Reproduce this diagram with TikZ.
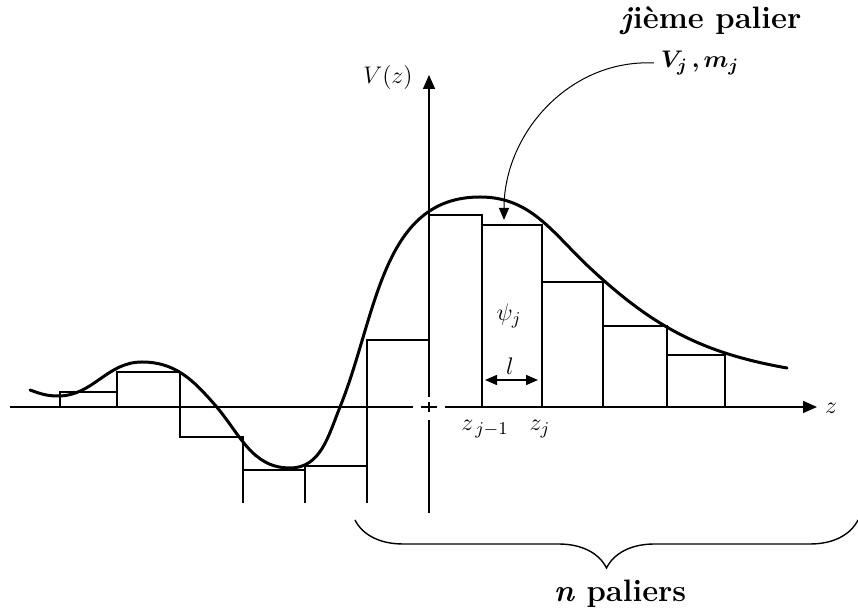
\documentclass[tikz,border=0pt]{standalone}
\usepackage{bm}
\usetikzlibrary{arrows.meta, positioning, decorations.pathreplacing}

\begin{document}
\begin{tikzpicture}[x=0.5pt, y=-0.5pt, >={Triangle[length=7pt, width=6pt]},
    lbl/.style={font=\fontsize{13}{15}\selectfont},
    titre/.style={font=\fontsize{15.5}{18}\selectfont\bfseries},
    stair/.style={line width=0.8pt},
    axe/.style={line width=0.7pt}]
    \useasboundingbox (0,0) rectangle (858,613);

    % 坐标轴
    \coordinate (zg) at (10,407);
    \coordinate (zd) at (817,407);
    \coordinate (vb) at (429,513);
    \coordinate (vh) at (429,75);
    \draw[axe] (zg) -- (413,407);
    \draw[axe, ->] (445,407) -- (zd);
    \draw[axe] (vb) -- (429,420);
    \draw[axe, ->] (429,397) -- (vh);
    \draw[axe] (421,407) -- (437,407) (429,402) -- (429,412);

    % 阶梯
    \draw[stair] (60,407) -- (60,392) -- (117,392) -- (117,372) -- (180,372) -- (180,437)
      -- (243,437) -- (243,470) -- (305,470) -- (305,466) -- (367,466) -- (367,340)
      -- (429,340) -- (429,215) -- (482,215) -- (482,225) -- (542,225) -- (542,282)
      -- (603,282) -- (603,326) -- (667,326) -- (667,355) -- (725,355) -- (725,407);
    \foreach \x/\y in {117/372, 482/215, 542/225, 603/282, 667/326}
      \draw[stair] (\x,\y) -- (\x,407);
    \foreach \x/\y in {243/470, 305/466, 367/466}
      \draw[stair] (\x,\y) -- (\x,503);

    % 势能曲线
    \draw[line width=1.5pt, line cap=round] (30,390) to[out=-20, in=180] (58,396)
      to[out=0, in=180] (142,362) to[out=0, in=131] (215,405)
      to[out=-49, in=180] (290,468) to[out=0, in=248] (340,407)
      to[out=68, in=180] (480,197) to[out=0, in=137] (590,268)
      to[out=-43, in=170] (787,368);

    % 标注
    \node[lbl] (Vz) at (388,78) {$V(z)$};
    \node[lbl] (zlab) at (831,408) {$z$};
    \node[lbl] (psi) at (509,316) {$\psi_j$};
    \node[lbl] (llab) at (510,366) {$l$};
    \node[lbl] (zjm) at (485,429) {$z_{\,j-1}$};
    \node[lbl] (zj) at (540,429) {$z_j$};
    \coordinate (la) at (485,380);
    \coordinate (lb) at (538,380);
    \draw[{Triangle[length=6pt, width=5pt]}-{Triangle[length=6pt, width=5pt]}, line width=0.7pt] (la) -- (lb);

    % 第 j 个台阶
    \node[titre] (palier) at (711,21) {\textit{j}ième palier};
    \node[lbl] (Vm) at (700,63) {$\bm{V_j\,,m_j}$};
    \coordinate (pointe) at (504,220);
    \draw[-{Triangle[length=6pt, width=5pt]}, line width=0.5pt] (Vm.west)
      .. controls (570,59) and (504,133) .. (pointe);

    % 括号
    \draw[decorate, decoration={brace, mirror, amplitude=24pt}, line width=0.7pt]
      (355,520) -- (858,520);
    \node[titre] (npal) at (620,594) {\textit{n} paliers};
  \end{tikzpicture}
\end{document}
